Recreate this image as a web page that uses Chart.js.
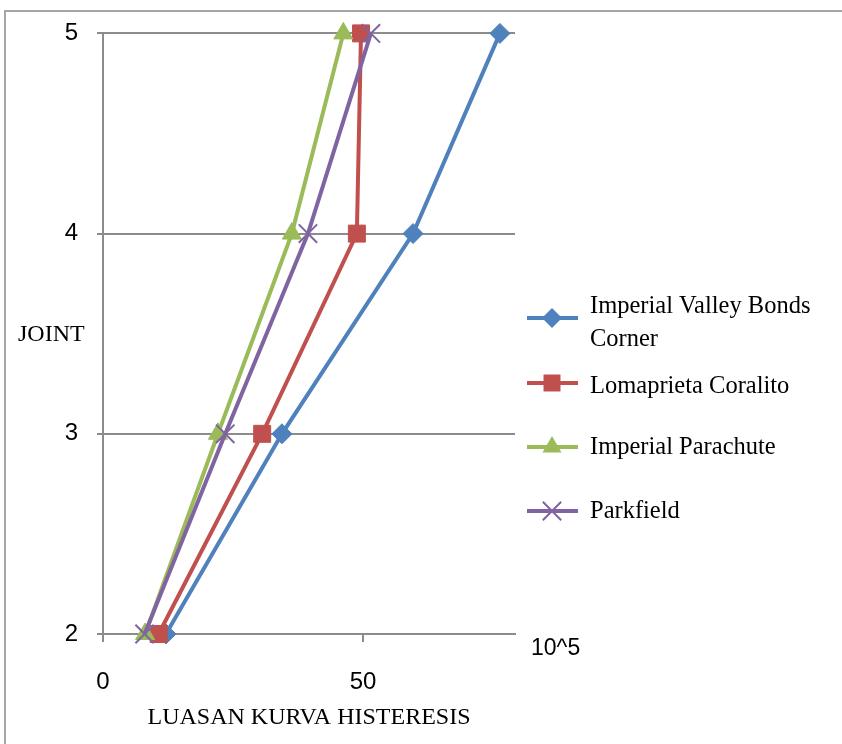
<!DOCTYPE html>
<html>
<head>
<meta charset="utf-8">
<script src="https://cdn.jsdelivr.net/npm/chart.js@4.4.1/dist/chart.umd.min.js"></script>
<style>
  html, body { margin: 0; padding: 0; background: #fff; }
</style>
</head>
<body>
<canvas id="chart" width="842" height="744"></canvas>
<script>
// joints on the y axis, hysteresis area (x 10^5) on the x axis
const joints = [2, 3, 4, 5];
const xTickValues = [0, 50];

const seriesNames = [
    ['Imperial Valley Bonds', 'Corner'],
    ['Lomaprieta Coralito'],
    ['Imperial Parachute'],
    ['Parkfield']
];
const imperialValley = [12.1, 34.4, 59.6, 76.3];
const lomaprieta = [10.7, 30.6, 48.8, 49.6];
const imperialParachute = [8.1, 22.1, 36.3, 46.2];
const parkfield = [8.0, 23.5, 39.4, 51.5];

const seriesColors = ['#4F81BD', '#C0504D', '#9BBB59', '#8064A2'];
const seriesMarkers = ['rectRot', 'rect', 'triangle', 'crossRot'];
const markerSizes = [10, 12, 11, 13];

const gridColor = '#8c8c8c';
const textColor = '#000';

function toPoints(values) {
    return values.map((v, i) => ({ x: v, y: joints[i] }));
}

const allSeries = [imperialValley, lomaprieta, imperialParachute, parkfield];

const datasets = allSeries.map((values, i) => ({
    label: seriesNames[i].join(' '),
    data: toPoints(values),
    borderColor: seriesColors[i],
    backgroundColor: seriesColors[i],
    borderWidth: 4,
    pointStyle: seriesMarkers[i],
    pointRadius: markerSizes[i],
    pointBorderWidth: seriesMarkers[i] === 'crossRot' ? 2 : 1,
    pointBackgroundColor: seriesColors[i],
    pointBorderColor: seriesColors[i],
    tension: 0,
    clip: false,
    order: allSeries.length - i
}));

// small marker painter for the hand-made legend
function drawMarker(ctx, style, x, y, r, color) {
    ctx.save();
    ctx.fillStyle = color;
    ctx.strokeStyle = color;
    ctx.beginPath();
    if (style === 'rectRot') {
        ctx.moveTo(x, y - r);
        ctx.lineTo(x + r, y);
        ctx.lineTo(x, y + r);
        ctx.lineTo(x - r, y);
        ctx.closePath();
        ctx.fill();
    } else if (style === 'rect') {
        const s = r * Math.SQRT1_2;
        ctx.rect(x - s, y - s, 2 * s, 2 * s);
        ctx.fill();
    } else if (style === 'triangle') {
        ctx.moveTo(x, y - r);
        ctx.lineTo(x + r * Math.sin(2 * Math.PI / 3), y + r / 2);
        ctx.lineTo(x - r * Math.sin(2 * Math.PI / 3), y + r / 2);
        ctx.closePath();
        ctx.fill();
    } else {
        const s = r * Math.SQRT1_2;
        ctx.lineWidth = 2;
        ctx.moveTo(x - s, y - s);
        ctx.lineTo(x + s, y + s);
        ctx.moveTo(x + s, y - s);
        ctx.lineTo(x - s, y + s);
        ctx.stroke();
    }
    ctx.restore();
}

const decorPlugin = {
    id: 'decor',
    beforeDraw(chart) {
        const ctx = chart.ctx;
        ctx.save();
        ctx.fillStyle = '#fff';
        ctx.fillRect(0, 0, chart.width, chart.height);
        ctx.strokeStyle = '#a6a6a6';
        ctx.lineWidth = 2;
        ctx.strokeRect(5, 11, chart.width + 10, chart.height + 10);
        ctx.restore();
    },
    afterDraw(chart) {
        const ctx = chart.ctx;
        ctx.save();
        ctx.fillStyle = textColor;
        ctx.textBaseline = 'middle';

        // y axis title, written level
        ctx.font = '24px "Liberation Serif"';
        ctx.textAlign = 'left';
        ctx.fillText('JOINT', 18, 335);

        // unit note next to the x axis
        ctx.font = '23px "Liberation Sans"';
        ctx.fillText('10^5', 531, 649);

        // legend
        const markerY = [318, 383, 447, 511];
        const textY = [[307, 340], [387], [448], [512]];
        ctx.font = '24.5px "Liberation Serif"';
        seriesNames.forEach((lines, i) => {
            ctx.strokeStyle = seriesColors[i];
            ctx.lineWidth = 4;
            ctx.beginPath();
            ctx.moveTo(527, markerY[i]);
            ctx.lineTo(578, markerY[i]);
            ctx.stroke();
            drawMarker(ctx, seriesMarkers[i], 552, markerY[i], markerSizes[i], seriesColors[i]);
            ctx.fillStyle = textColor;
            lines.forEach((line, j) => {
                ctx.fillText(line, 590, textY[i][j]);
            });
        });
        ctx.restore();
    }
};

new Chart(document.getElementById('chart'), {
    type: 'line',
    data: { datasets },
    options: {
        responsive: false,
        animation: false,
        layout: { padding: { top: 33, right: 327, left: 0, bottom: 0 } },
        plugins: {
            legend: { display: false },
            tooltip: { enabled: false }
        },
        scales: {
            x: {
                type: 'linear',
                min: 0,
                max: 79.2,
                afterBuildTicks(scale) {
                    scale.ticks = xTickValues.map(v => ({ value: v }));
                },
                afterFit(scale) { scale.height = 110; },
                ticks: {
                    padding: 26,
                    color: textColor,
                    font: { family: 'Liberation Sans', size: 24 }
                },
                grid: { drawOnChartArea: false, tickLength: 8, color: gridColor, lineWidth: 2 },
                border: { color: gridColor, width: 2 },
                title: {
                    display: true,
                    text: 'LUASAN KURVA HISTERESIS',
                    color: textColor,
                    font: { family: 'Liberation Serif', size: 24 },
                    padding: { top: 0, bottom: 12 }
                }
            },
            y: {
                type: 'linear',
                min: 2,
                max: 5,
                afterFit(scale) { scale.width = 103; },
                ticks: {
                    stepSize: 1,
                    padding: 19,
                    color: textColor,
                    font: { family: 'Liberation Sans', size: 24 }
                },
                grid: { color: gridColor, lineWidth: 2, tickLength: 6 },
                border: { color: gridColor, width: 2 }
            }
        }
    },
    plugins: [decorPlugin]
});
</script>
</body>
</html>
